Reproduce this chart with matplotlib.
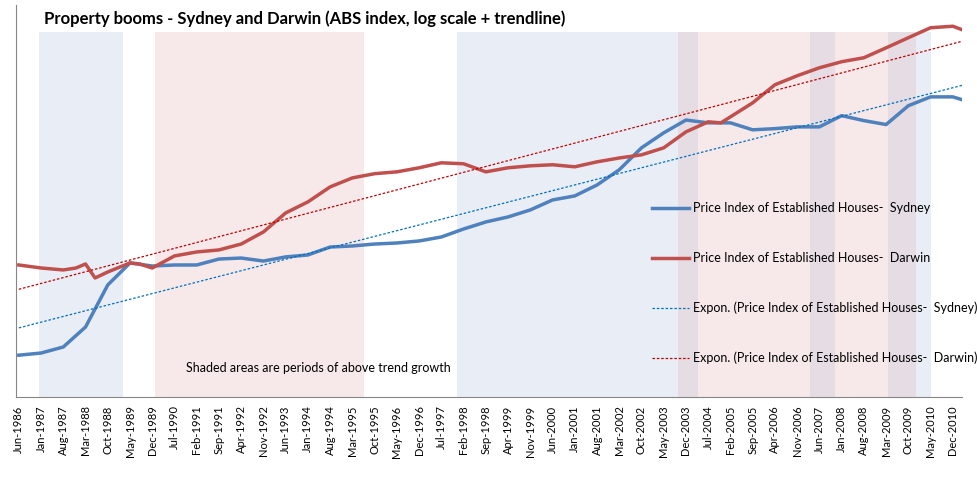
import numpy as np
import matplotlib
matplotlib.use("Agg")
import matplotlib.pyplot as plt

plt.rcParams["font.family"] = ["Lato", "DejaVu Sans"]

# ── data (months since Jun-1986, ABS index) ─────────────────────────────────
syd_months = [0, 7, 14, 21, 28, 35, 42, 49, 56, 63, 70, 77, 84, 91, 98, 105, 112, 119,
              126, 133, 140, 147, 154, 161, 168, 175, 182, 189, 196, 203, 210, 217, 224,
              231, 238, 245, 252, 259, 266, 273, 280, 287, 294, 297]
syd_index = [54.4, 55.2, 57.5, 65.8, 87.4, 101.4, 99.3, 100, 100, 104.1, 104.8, 102.7,
             105.6, 107.0, 112.9, 113.7, 115.2, 116.0, 117.6, 120.8, 127.5, 133.7, 138.3,
             145.0, 155.1, 159.4, 171.6, 190.1, 220.5, 244, 266, 261, 261, 249, 251, 254,
             254, 274, 265, 258, 293, 311, 311, 305]

drw_months = [0, 7, 14, 18, 21, 24, 28, 35, 38, 42, 49, 56, 63, 70, 77, 84, 91, 98, 105,
              112, 119, 126, 133, 140, 147, 154, 161, 168, 175, 182, 189, 196, 203, 210,
              217, 221, 224, 231, 238, 245, 252, 259, 266, 273, 280, 287, 294, 297]
drw_index = [100, 98.0, 96.7, 98.0, 100.7, 91.6, 95.4, 101.4, 100.7, 98.0, 106.3, 109.2,
             110.7, 115.2, 125.0, 142.1, 153.1, 169.4, 180.0, 185.2, 187.5, 192.7, 199.3,
             198.0, 187.5, 192.7, 195.3, 196.7, 194.0, 200.6, 205.9, 210.3, 220.5, 245.6,
             262.8, 261, 271.8, 298.8, 337.5, 358.6, 378.5, 394.3, 405, 433, 463.6, 495.9,
             501, 489]

tick_labels = ["Jun-1986", "Jan-1987", "Aug-1987", "Mar-1988", "Oct-1988", "May-1989",
               "Dec-1989", "Jul-1990", "Feb-1991", "Sep-1991", "Apr-1992", "Nov-1992",
               "Jun-1993", "Jan-1994", "Aug-1994", "Mar-1995", "Oct-1995", "May-1996",
               "Dec-1996", "Jul-1997", "Feb-1998", "Sep-1998", "Apr-1999", "Nov-1999",
               "Jun-2000", "Jan-2001", "Aug-2001", "Mar-2002", "Oct-2002", "May-2003",
               "Dec-2003", "Jul-2004", "Feb-2005", "Sep-2005", "Apr-2006", "Nov-2006",
               "Jun-2007", "Jan-2008", "Aug-2008", "Mar-2009", "Oct-2009", "May-2010",
               "Dec-2010"]
tick_months = [7 * i for i in range(len(tick_labels))]

# shaded periods (start month, end month)
blue_spans = [(6.3, 32.7), (138, 287)]
pink_spans = [(42.8, 108.5), (213.8, 282.4)]
dark_spans = [(207.5, 213.8), (249, 257), (273.6, 282.4)]

# ── chart ───────────────────────────────────────────────────────────────────
fig = plt.figure(figsize=(9.78, 4.79), dpi=100)
ax = fig.add_axes([0.016, 0.171, 0.968, 0.819])

for a, b in blue_spans:
    ax.axvspan(a, b, ymax=0.93, color="#E9EEF6", lw=0, zorder=0)
for a, b in pink_spans:
    ax.axvspan(a, b, ymax=0.93, color="#F7E9E9", lw=0, zorder=0)
for a, b in dark_spans:
    ax.axvspan(a, b, ymax=0.93, color="#E6DDE4", lw=0, zorder=0)

ax.set_yscale("log")
ax.plot(syd_months, syd_index, color="#4F81BD", lw=2.5,
        label="Price Index of Established Houses-  Sydney")
ax.plot(drw_months, drw_index, color="#C0504D", lw=2.5,
        label="Price Index of Established Houses-  Darwin")

# exponential trendlines
xs = np.array([0, 297])
for m, v, c, name in [(syd_months, syd_index, "#0070C0", "Sydney"),
                      (drw_months, drw_index, "#C00000", "Darwin")]:
    k, b = np.polyfit(m, np.log(v), 1)
    ax.plot(xs, np.exp(b + k * xs), color=c, lw=0.9, ls=(0, (2, 1.5)),
            label=f"Expon. (Price Index of Established Houses-  {name})")

ax.set_xlim(-1, 297)
ax.set_ylim(41, 579)
ax.set_xticks(tick_months)
ax.set_xticklabels(tick_labels, rotation=90, fontsize=8)
ax.tick_params(axis="x", length=0, pad=6)
ax.set_yticks([])
ax.minorticks_off()
ax.set_yticks([], minor=True)
for s in ["top", "right"]:
    ax.spines[s].set_visible(False)
for s in ["left", "bottom"]:
    ax.spines[s].set_color("#868686")

ax.text(0.03, 0.985, "Property booms - Sydney and Darwin (ABS index, log scale + trendline)",
        transform=ax.transAxes, fontsize=12, fontweight="bold", va="top")
ax.text(0.18, 0.065, "Shaded areas are periods of above trend growth",
        transform=ax.transAxes, fontsize=9)

ax.legend(loc="upper left", bbox_to_anchor=(0.66, 0.525), frameon=False, fontsize=9,
          handlelength=3, labelspacing=3.0, handletextpad=0.3)

fig.savefig("out.png", dpi=100)
